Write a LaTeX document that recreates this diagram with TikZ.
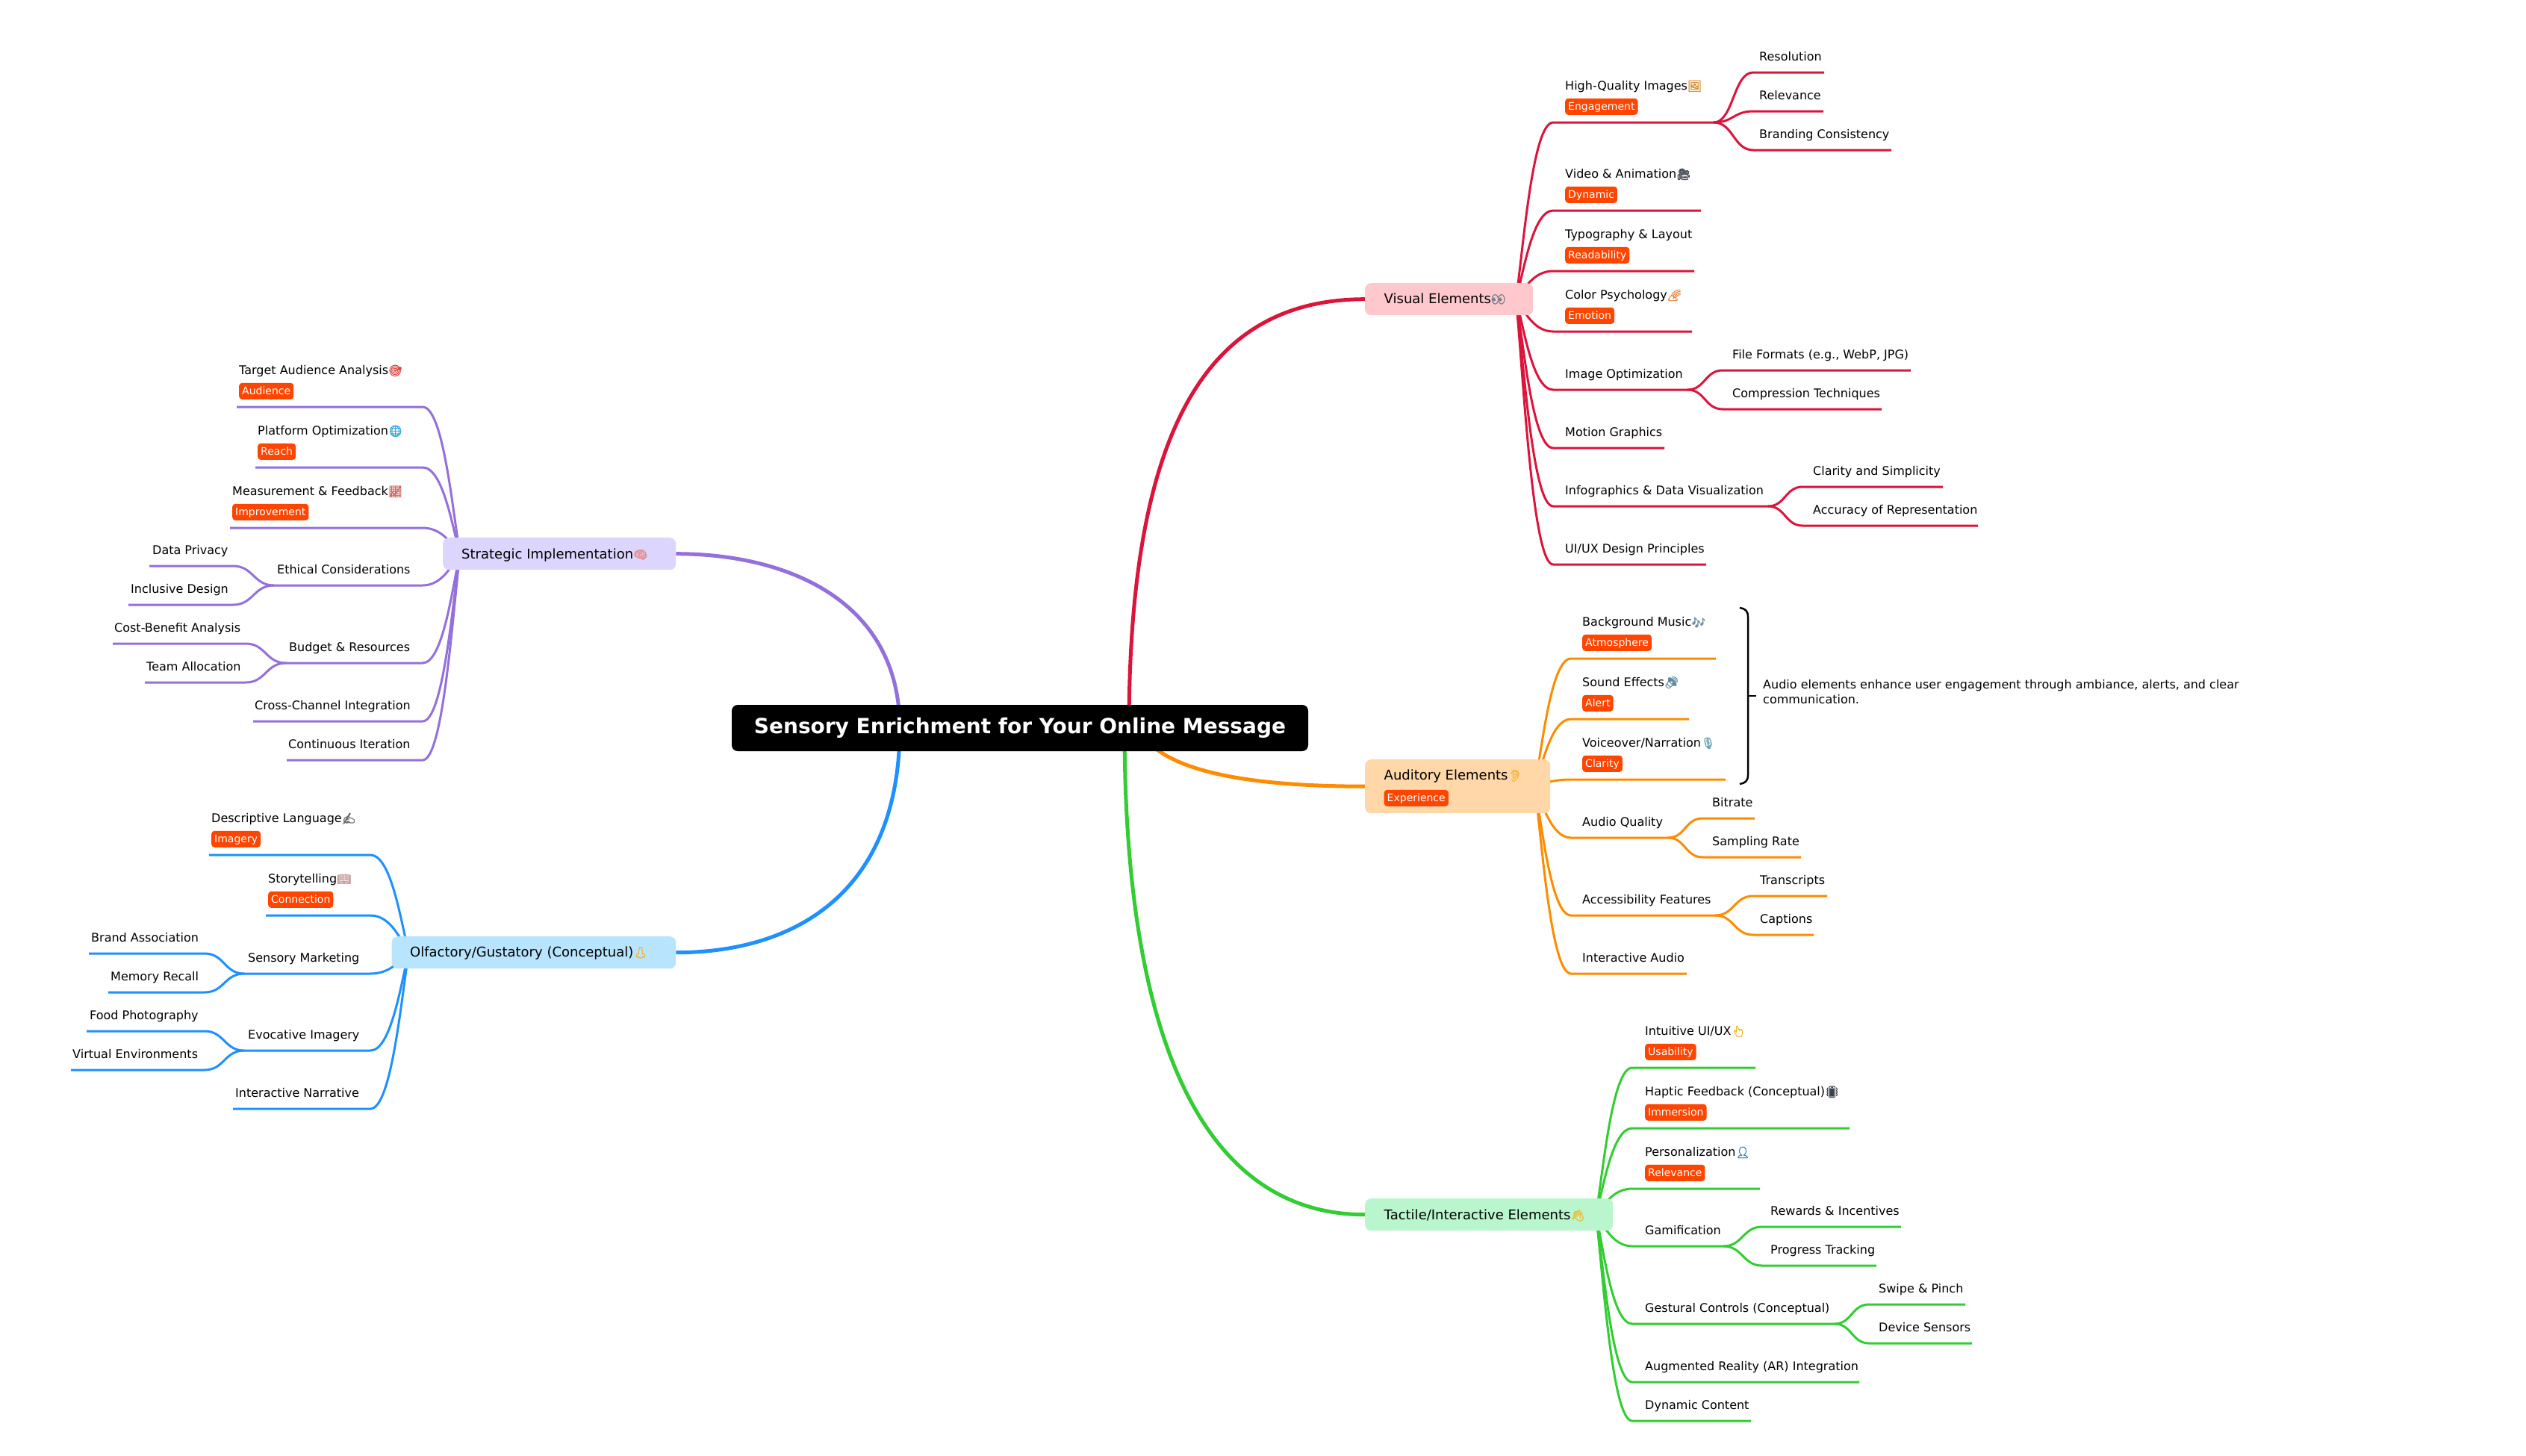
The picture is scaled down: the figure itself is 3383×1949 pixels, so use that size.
\documentclass[tikz,border=0pt]{standalone}
\usepackage{fontspec}
\usetikzlibrary{calc}
\setmainfont{DejaVu Sans}
\newfontfamily\emo[FakeBold=2]{Noto Emoji}
\definecolor{cred}{HTML}{DC143C}
\definecolor{corange}{HTML}{FF8C00}
\definecolor{cgreen}{HTML}{32CD32}
\definecolor{cpurple}{HTML}{9370DB}
\definecolor{cblue}{HTML}{1E90FF}
\definecolor{tagbg}{HTML}{FF4500}
\definecolor{fred}{HTML}{FFC8CC}
\definecolor{forange}{HTML}{FFD7A8}
\definecolor{fgreen}{HTML}{B9F6CE}
\definecolor{fpurple}{HTML}{DCD6FF}
\definecolor{fblue}{HTML}{B8E4FD}
\pgfdeclarelayer{bg}
\pgfsetlayers{bg,main}
\tikzset{
  txt/.style={anchor=base west,inner sep=0pt,font=\fontsize{16}{20}\selectfont,text=black},
  tagbox/.style={anchor=south west,inner xsep=4pt,inner ysep=0pt,text height=16pt,text depth=6pt,
    fill=tagbg,rounded corners=4pt,text=white,font=\fontsize{14}{16}\selectfont},
  branch/.style={draw=#1,line width=3pt,fill=none},
  trunk/.style={draw=#1,line width=5pt,fill=none},
  lvone/.style={fill=#1,rounded corners=8pt,inner sep=0pt,anchor=north west},
  lvtext/.style={anchor=base west,inner sep=0pt,font=\fontsize{18}{22}\selectfont,text=black},
  rootbox/.style={fill=black,rounded corners=8pt,text=white,inner sep=0pt,
    font=\bfseries\fontsize{28}{34}\selectfont},
  notetext/.style={anchor=west,inner sep=0pt,align=left,font=\fontsize{16}{20}\selectfont},
}
% #1 name #2 start #3 colour #4 curve end x #5 line y
\newcommand\curvelink[5]{%
  \coordinate (#1-a) at (#4,#5);
  \begin{pgfonlayer}{bg}
  \draw[branch=#3] let \p1=(#2),\p2=(#1-a) in (#2) ..
    controls ({\x1+.2*(\x2-\x1)},{\y1+.3*(\y2-\y1)}) and ({\x1+.45*(\x2-\x1)},\y2) .. (#1-a) -- (#1-b);
  \end{pgfonlayer}}
\newcommand\scurvelink[5]{%
  \coordinate (#1-a) at (#4,#5);
  \begin{pgfonlayer}{bg}
  \draw[branch=#3] let \p1=(#2),\p2=(#1-a) in (#2) ..
    controls ({.5*(\x1+\x2)},\y1) and ({.5*(\x1+\x2)},\y2) .. (#1-a) -- (#1-b);
  \end{pgfonlayer}}
% #1 name #2 start #3 colour #4 text x #5 line y #6 curve end x #7 line end x #8 text
\newcommand\leafitem[8]{%
  \coordinate (#1-b) at (#7,#5);
  \curvelink{#1}{#2}{#3}{#6}{#5}
  \node[txt] (#1) at (#4,#5-15.5) {#8};}
\newcommand\subleaf[8]{%
  \coordinate (#1-b) at (#7,#5);
  \scurvelink{#1}{#2}{#3}{#6}{#5}
  \node[txt] (#1) at (#4,#5-15.5) {#8};}
\newcommand\tagitem[9]{%
  \coordinate (#1-b) at (#7,#5);
  \curvelink{#1}{#2}{#3}{#6}{#5}
  \node[txt] (#1) at (#4,#5-43.5) {#8};
  \node[tagbox] (#1-tag) at (#4,#5-10) {#9};}
\newcommand\emj[2]{\textcolor[HTML]{#1}{\emo\fontsize{15}{15}\selectfont #2}}
\begin{document}
\begin{tikzpicture}[x=1pt,y=-1pt]
\useasboundingbox (0,0) rectangle (3383,1949);
\begin{pgfonlayer}{bg}
\fill[white] (0,0) rectangle (3383,1949);
\end{pgfonlayer}

% root and first level boxes
\node[rootbox,minimum width=772pt,minimum height=62pt] (root) at (1366,975) {Sensory Enrichment for Your Online Message};
\coordinate (rootTR) at (1512,975);
\coordinate (rootTO) at (1525,975);
\coordinate (rootTG) at (1506,975);
\coordinate (rootTL) at (1205,975);

\node[lvone=fred,minimum width=225pt,minimum height=43pt] (visual) at (1828,379) {};
\node[lvone=forange,minimum width=248pt,minimum height=72pt] (audit) at (1828,1017) {};
\node[lvone=fgreen,minimum width=332pt,minimum height=43pt] (tactile) at (1828,1605) {};
\node[lvone=fpurple,minimum width=312pt,minimum height=43pt] (strat) at (593,720) {};
\node[lvone=fblue,minimum width=380.5pt,minimum height=43pt] (olfact) at (524.5,1254) {};

\node[lvtext] (visualt) at (1853.5,406) {Visual Elements\emj{6B7B8C}{👀}};
\node[lvtext] (auditt) at (1853.5,1044) {Auditory Elements\emj{F5B32A}{👂}};
\node[tagbox] (audittag) at (1853.5,1080) {Experience};
\node[lvtext] (tactilet) at (1853.5,1633) {Tactile/Interactive Elements\emj{F5B32A}{👋}};
\node[lvtext] (stratt) at (618,748) {Strategic Implementation\emj{E98A8A}{🧠}};
\node[lvtext] (olfactt) at (549,1281) {Olfactory/Gustatory (Conceptual)\emj{F5B32A}{👃}};

\coordinate (vs) at ($(visual.east)+(-23,0)$);
\coordinate (as) at ($(audit.east)+(-21,0)$);
\coordinate (ts) at ($(tactile.east)+(-23,0)$);
\coordinate (ss) at ($(strat.west)+(23,0)$);
\coordinate (os) at ($(olfact.west)+(23,0)$);

\begin{pgfonlayer}{bg}
\draw[trunk=cred] (rootTR) .. controls +(0,-420) and +(-200,0) .. (visual.west);
\draw[trunk=corange] (rootTO) .. controls +(25,55) and +(-168,0) .. (audit.west);
\draw[trunk=cgreen] (rootTG) .. controls +(0,450) and +(-200,0) .. (tactile.west);
\draw[trunk=cpurple] (rootTL) .. controls +(0,-170) and +(150,0) .. (strat.east);
\draw[trunk=cblue] (rootTL) .. controls +(0,220) and +(160,0) .. (olfact.east);
\end{pgfonlayer}

% Visual
\tagitem{hq}{vs}{cred}{2096}{164}{2080}{2295}{High-Quality Images\emj{D98A2B}{🖼}}{Engagement}
\subleaf{res}{hq-b}{cred}{2356}{97}{2348}{2443}{Resolution}
\subleaf{rel}{hq-b}{cred}{2356}{149}{2348}{2442}{Relevance}
\subleaf{bra}{hq-b}{cred}{2356}{201}{2348}{2533}{Branding Consistency}
\tagitem{vid}{vs}{cred}{2096}{282}{2080}{2278}{Video \& Animation\emj{4A4F57}{🎥}}{Dynamic}
\tagitem{typ}{vs}{cred}{2096}{363}{2080}{2269}{Typography \& Layout}{Readability}
\tagitem{col}{vs}{cred}{2096}{444}{2080}{2266}{Color Psychology\emj{E8803A}{🌈}}{Emotion}
\leafitem{imo}{vs}{cred}{2096}{522}{2080}{2260}{Image Optimization}
\subleaf{fil}{imo-b}{cred}{2320}{496}{2307}{2559}{File Formats (e.g., WebP, JPG)}
\subleaf{com}{imo-b}{cred}{2320}{548}{2307}{2520}{Compression Techniques}
\leafitem{mot}{vs}{cred}{2096}{600}{2080}{2229}{Motion Graphics}
\leafitem{inf}{vs}{cred}{2096}{678}{2080}{2368}{Infographics \& Data Visualization}
\subleaf{cla}{inf-b}{cred}{2428}{652}{2414}{2602}{Clarity and Simplicity}
\subleaf{acc}{inf-b}{cred}{2428}{704}{2414}{2649}{Accuracy of Representation}
\leafitem{uiu}{vs}{cred}{2096}{756}{2080}{2285}{UI/UX Design Principles}

% Auditory
\tagitem{bgm}{as}{corange}{2119}{882}{2104}{2298}{Background Music\emj{6F8FA0}{🎶}}{Atmosphere}
\tagitem{sfx}{as}{corange}{2119}{963}{2104}{2262}{Sound Effects\emj{5F8CA3}{🔊}}{Alert}
\tagitem{voi}{as}{corange}{2119}{1044}{2104}{2311}{Voiceover/Narration\emj{6FA5B8}{🎙}}{Clarity}
\leafitem{aq}{as}{corange}{2119}{1122}{2104}{2234}{Audio Quality}
\subleaf{bit}{aq-b}{corange}{2293}{1096}{2280}{2350}{Bitrate}
\subleaf{sam}{aq-b}{corange}{2293}{1148}{2280}{2412}{Sampling Rate}
\leafitem{acf}{as}{corange}{2119}{1226}{2104}{2297}{Accessibility Features}
\subleaf{tra}{acf-b}{corange}{2357}{1200}{2348}{2447}{Transcripts}
\subleaf{cap}{acf-b}{corange}{2357}{1252}{2348}{2429}{Captions}
\leafitem{iau}{as}{corange}{2119}{1304}{2104}{2259}{Interactive Audio}

% Brace and note
\coordinate (bt) at (2330,814);
\coordinate (bb) at (2330,1050);
\coordinate (bm) at (2341,932);
\coordinate (bk) at (2352,932);
\draw[black,line width=2.5pt] (bt) .. controls (2337,815) and (2341,818) .. (2341,826) -- (2341,1038) .. controls (2341,1046) and (2337,1049) .. (bb);
\draw[black,line width=2.5pt] (bm) -- (bk);
\node[notetext] (note) at (2361,927) {Audio elements enhance user engagement through ambiance, alerts, and clear\\communication.};

% Tactile
\tagitem{uix}{ts}{cgreen}{2203}{1430}{2186}{2351}{Intuitive UI/UX\emj{F5B32A}{👆}}{Usability}
\tagitem{hap}{ts}{cgreen}{2203}{1511}{2186}{2477}{Haptic Feedback (Conceptual)\emj{3A4048}{📳}}{Immersion}
\tagitem{per}{ts}{cgreen}{2203}{1592}{2186}{2357}{Personalization\emj{2F7FC4}{👤}}{Relevance}
\leafitem{gam}{ts}{cgreen}{2203}{1669}{2186}{2308}{Gamification}
\subleaf{rew}{gam-b}{cgreen}{2371}{1643}{2360}{2546}{Rewards \& Incentives}
\subleaf{pro}{gam-b}{cgreen}{2371}{1695}{2360}{2513}{Progress Tracking}
\leafitem{ges}{ts}{cgreen}{2203}{1773}{2186}{2457}{Gestural Controls (Conceptual)}
\subleaf{swi}{ges-b}{cgreen}{2516}{1747}{2503}{2632}{Swipe \& Pinch}
\subleaf{dev}{ges-b}{cgreen}{2516}{1799}{2503}{2641}{Device Sensors}
\leafitem{arr}{ts}{cgreen}{2203}{1851}{2186}{2490}{Augmented Reality (AR) Integration}
\leafitem{dyn}{ts}{cgreen}{2203}{1903}{2186}{2345}{Dynamic Content}

% Strategic
\tagitem{tar}{ss}{cpurple}{320}{545}{566}{317}{Target Audience Analysis\emj{D9403A}{🎯}}{Audience}
\tagitem{pla}{ss}{cpurple}{345}{626}{566}{342}{Platform Optimization\emj{2FA5E0}{🌐}}{Reach}
\tagitem{mea}{ss}{cpurple}{311}{707}{566}{308}{Measurement \& Feedback\emj{D9605A}{📈}}{Improvement}
\leafitem{eth}{ss}{cpurple}{371}{784}{566}{367}{Ethical Considerations}
\subleaf{dat}{eth-b}{cpurple}{204}{758}{312}{200}{Data Privacy}
\subleaf{inc}{eth-b}{cpurple}{175}{810}{312}{172}{Inclusive Design}
\leafitem{bud}{ss}{cpurple}{387}{888}{566}{383}{Budget \& Resources}
\subleaf{cos}{bud-b}{cpurple}{153}{862}{329}{151}{Cost-Benefit Analysis}
\subleaf{tea}{bud-b}{cpurple}{196}{914}{329}{194}{Team Allocation}
\leafitem{crs}{ss}{cpurple}{341}{966}{566}{339}{Cross-Channel Integration}
\leafitem{cnt}{ss}{cpurple}{386}{1018}{566}{384}{Continuous Iteration}

% Olfactory
\tagitem{des}{os}{cblue}{283}{1145}{496}{280}{Descriptive Language\emj{6A6A6A}{✍}}{Imagery}
\tagitem{sto}{os}{cblue}{359}{1226}{496}{356}{Storytelling\emj{C9A0A0}{📖}}{Connection}
\leafitem{sen}{os}{cblue}{332}{1304}{496}{327}{Sensory Marketing}
\subleaf{brn}{sen-b}{cblue}{122}{1277}{274}{119}{Brand Association}
\subleaf{mem}{sen-b}{cblue}{148}{1329}{274}{145}{Memory Recall}
\leafitem{evo}{os}{cblue}{332}{1407}{496}{327}{Evocative Imagery}
\subleaf{foo}{evo-b}{cblue}{120}{1381}{274}{116}{Food Photography}
\subleaf{vir}{evo-b}{cblue}{97}{1433}{274}{95}{Virtual Environments}
\leafitem{nar}{os}{cblue}{315}{1485}{496}{312}{Interactive Narrative}
\end{tikzpicture}
\end{document}
